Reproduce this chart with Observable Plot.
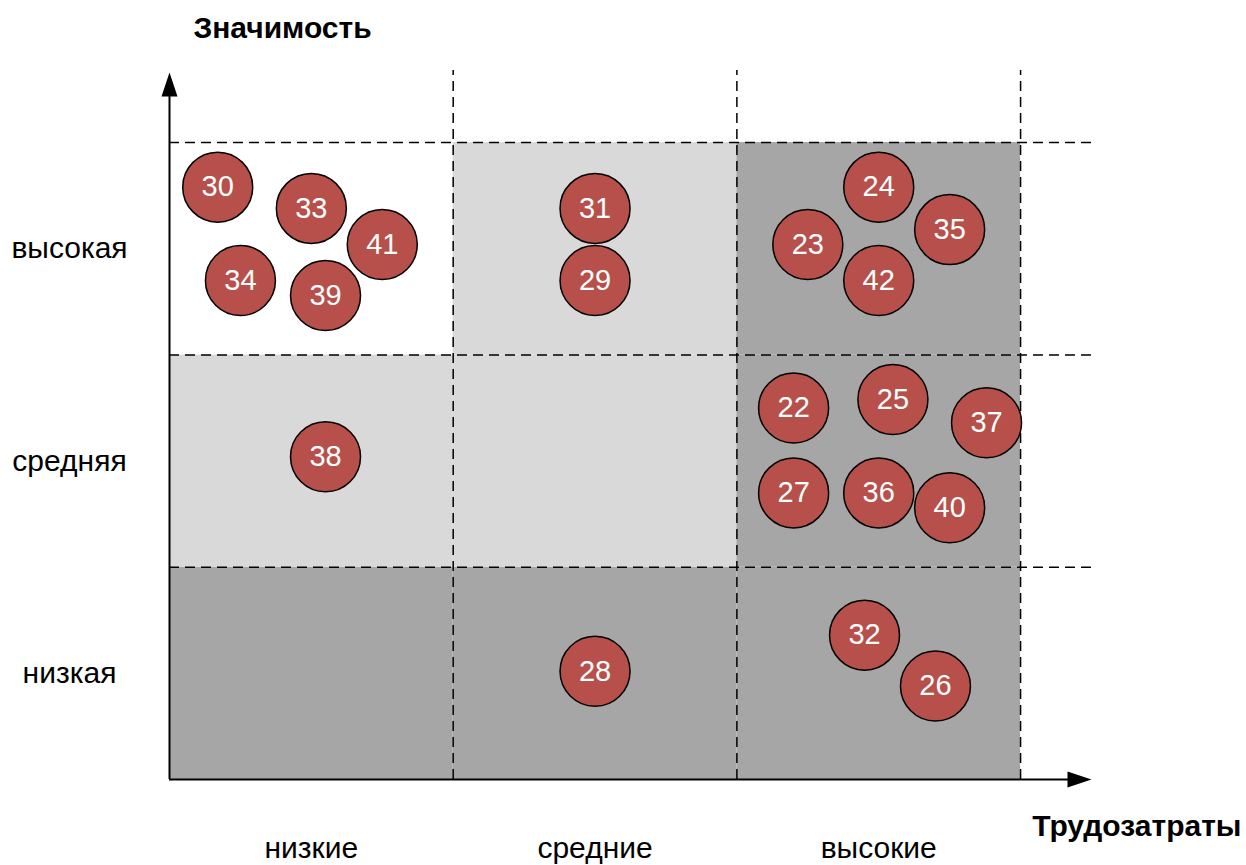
<!DOCTYPE html>
<html>
<head>
<meta charset="utf-8">
<script src="https://cdn.jsdelivr.net/npm/d3@7"></script>
<script src="https://cdn.jsdelivr.net/npm/@observablehq/plot@0.6"></script>
<style>
  html, body { margin: 0; padding: 0; background: #fff; }
  #chart svg { display: block; }
</style>
</head>
<body>
<div id="chart"></div>
<script>
// ---- data ----
const xTitle = "Трудозатраты";
const yTitle = "Значимость";
const xCategories = ["низкие", "средние", "высокие"];
const yCategories = ["низкая", "средняя", "высокая"];
// shading per row (низкая, средняя, высокая) and column (низкие, средние, высокие)
const shadeRowLow  = ["dark", "dark", "dark"];
const shadeRowMid  = ["light", "light", "dark"];
const shadeRowHigh = ["white", "light", "dark"];
// items: id, effort (x), importance (y)
const itemIds        = [30, 33, 41, 34, 39, 31, 29, 24, 35, 23, 42, 22, 25, 37, 27, 36, 40, 38, 28, 32, 26];
const itemEffort     = [0.17, 0.50, 0.75, 0.25, 0.55, 1.50, 1.50, 2.50, 2.75, 2.25, 2.50, 2.20, 2.55, 2.88, 2.20, 2.50, 2.75, 0.55, 1.50, 2.45, 2.70];
const itemImportance = [2.79, 2.69, 2.52, 2.35, 2.28, 2.69, 2.35, 2.79, 2.59, 2.52, 2.35, 1.75, 1.79, 1.68, 1.35, 1.35, 1.28, 1.52, 0.51, 0.68, 0.44];

// ---- derived tables ----
const shadeColor = {white: "#ffffff", light: "#d9d9d9", dark: "#a6a6a6"};
const shadeRows = [shadeRowLow, shadeRowMid, shadeRowHigh];
const cells = [];
shadeRows.forEach((row, r) => row.forEach((tone, c) => cells.push({c, r, fill: shadeColor[tone]})));
const items = itemIds.map((id, i) => ({id, x: itemEffort[i], y: itemImportance[i]}));
const nCols = xCategories.length, nRows = yCategories.length;
const xMax = 3.25, yMax = 3.33;
const xLabels = xCategories.map((t, i) => ({t, x: i + 0.5}));
const yLabels = yCategories.map((t, i) => ({t, y: i + 0.5}));
const divs = d3.range(1, nCols + 1);
const hdivs = d3.range(1, nRows + 1);

const arrowHead = {
  draw(ctx) {
    ctx.moveTo(0, 0);
    ctx.lineTo(-8, 24);
    ctx.lineTo(8, 24);
    ctx.closePath();
  }
};

const font = "'Liberation Sans', Arial, sans-serif";

const chart = Plot.plot({
  width: 1246,
  height: 865,
  marginLeft: 169,
  marginRight: 155,
  marginTop: 72,
  marginBottom: 86,
  style: {fontFamily: font, background: "#fff"},
  x: {type: "linear", domain: [0, xMax], axis: null},
  y: {type: "linear", domain: [0, yMax], axis: null},
  marks: [
    Plot.rect(cells, {x1: d => d.c, x2: d => d.c + 1, y1: d => d.r, y2: d => d.r + 1, fill: d => d.fill}),
    Plot.ruleX(divs, {x: d => d, y1: 0, y2: yMax + 0.01, stroke: "#000", strokeWidth: 1.5, strokeDasharray: "10,6"}),
    Plot.ruleY(hdivs, {y: d => d, x1: 0, x2: xMax + 0.005, stroke: "#000", strokeWidth: 1.5, strokeDasharray: "10,6"}),
    Plot.ruleX([0], {y1: 0, y2: yMax - 0.05, stroke: "#000", strokeWidth: 2}),
    Plot.ruleY([0], {x1: 0, x2: xMax - 0.04, stroke: "#000", strokeWidth: 2}),
    Plot.dot([{x: 0, y: yMax}], {x: "x", y: "y", symbol: arrowHead, fill: "#000", stroke: "none"}),
    Plot.dot([{x: xMax, y: 0}], {x: "x", y: "y", symbol: arrowHead, rotate: 90, fill: "#000", stroke: "none"}),
    Plot.dot(items, {x: "x", y: "y", r: 35, fill: "#b7504a", stroke: "#000", strokeWidth: 1.5}),
    Plot.text(items, {x: "x", y: "y", text: d => String(d.id), fill: "#fff", fontSize: 29}),
    Plot.text(yLabels, {x: 0, y: "y", text: "t", dx: -100, fontSize: 30, fill: "#000"}),
    Plot.text(xLabels, {x: "x", y: 0, text: "t", dy: 69, fontSize: 30, fill: "#000"}),
    Plot.text([yTitle], {x: 0, y: yMax, text: d => d, dx: 113, dy: -44, fontSize: 30, fontWeight: "bold", fill: "#000"}),
    Plot.text([xTitle], {x: xMax, y: 0, text: d => d, dx: 150, dy: 47, textAnchor: "end", fontSize: 30, fontWeight: "bold", fill: "#000"})
  ]
});
document.getElementById("chart").append(chart);
</script>
</body>
</html>
